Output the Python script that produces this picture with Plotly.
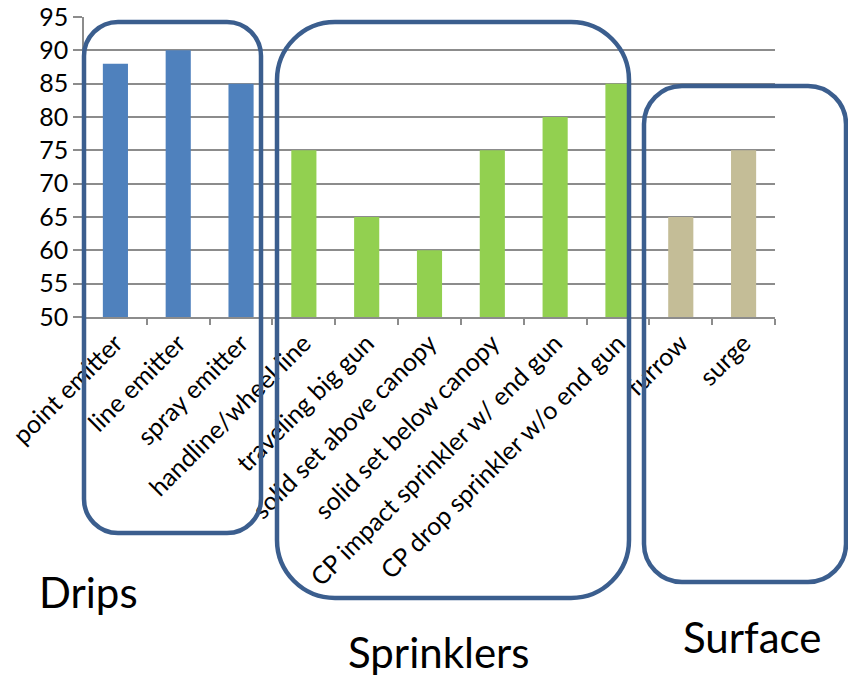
import plotly.graph_objects as go

# Irrigation system efficiency (%) by method
methods = [
    "point emitter", "line emitter", "spray emitter",
    "handline/wheel line", "traveling big gun", "solid set above canopy",
    "solid set below canopy", "CP impact sprinkler w/ end gun",
    "CP drop sprinkler w/o end gun", "furrow", "surge",
]
efficiency = [88, 90, 85, 75, 65, 60, 75, 80, 85, 65, 75]
groups = ["Drips"] * 3 + ["Sprinklers"] * 6 + ["Surface"] * 2

group_colors = {"Drips": "#4F81BD", "Sprinklers": "#92D050", "Surface": "#C4BD97"}
y_ticks = [50, 55, 60, 65, 70, 75, 80, 85, 90, 95]

W, H = 848, 678
L, R, T, B = 84, 775, 17, 317  # plot area in pixels
FONT = "Lato"


def px(x, y):
    """Pixel position -> paper coordinates."""
    return (x - L) / (R - L), (B - y) / (B - T)


def rounded_box(x0, y0, x1, y1, r):
    k = 0.5523 * r

    def P(x, y):
        a, b = px(x, y)
        return f"{a:.5f},{b:.5f}"

    path = (
        f"M {P(x0 + r, y0)} L {P(x1 - r, y0)} "
        f"C {P(x1 - r + k, y0)} {P(x1, y0 + r - k)} {P(x1, y0 + r)} "
        f"L {P(x1, y1 - r)} "
        f"C {P(x1, y1 - r + k)} {P(x1 - r + k, y1)} {P(x1 - r, y1)} "
        f"L {P(x0 + r, y1)} "
        f"C {P(x0 + r - k, y1)} {P(x0, y1 - r + k)} {P(x0, y1 - r)} "
        f"L {P(x0, y0 + r)} "
        f"C {P(x0, y0 + r - k)} {P(x0 + r - k, y0)} {P(x0 + r, y0)} Z"
    )
    return dict(type="path", xref="paper", yref="paper", path=path,
                line=dict(color="#3B5E8E", width=4.5), layer="above")


fig = go.Figure(
    go.Bar(
        x=methods,
        y=efficiency,
        marker=dict(color=[group_colors[g] for g in groups], line=dict(width=0)),
        width=0.4,
    )
)

# Group outlines and captions
boxes = [
    ("Drips", (84, 22, 261, 533, 34), (88, 592)),
    ("Sprinklers", (277, 22, 629, 598, 58), (438, 652)),
    ("Surface", (644, 86, 846, 582, 38), (752, 637)),
]
shapes = []
annotations = []
for name, (x0, y0, x1, y1, r), (tx, ty) in boxes:
    shapes.append(rounded_box(x0, y0, x1, y1, r))
    ax, ay = px(tx, ty)
    annotations.append(dict(text=name, x=ax, y=ay, xref="paper", yref="paper",
                            showarrow=False, xanchor="center", yanchor="middle",
                            font=dict(family=FONT, size=42, color="black")))

fig.update_layout(
    width=W, height=H,
    margin=dict(l=L, r=W - R, t=T, b=H - B, pad=0, autoexpand=False),
    paper_bgcolor="white", plot_bgcolor="white",
    showlegend=False,
    font=dict(family=FONT, size=24, color="black"),
    shapes=shapes,
    annotations=annotations,
)
fig.update_xaxes(
    type="category", tickangle=-45, tickson="boundaries", automargin=False,
    ticks="outside", ticklen=6, tickcolor="#8C8C8C", tickwidth=1.5,
    showline=True, linecolor="#8C8C8C", linewidth=1.5,
    showgrid=False, tickfont=dict(family=FONT, size=25, color="black"),
)
fig.update_yaxes(
    range=[50, 95], tickvals=y_ticks, ticktext=[str(v) for v in y_ticks],
    automargin=False,
    ticks="outside", ticklen=9, tickcolor="#8C8C8C", tickwidth=1.5,
    showline=True, linecolor="#8C8C8C", linewidth=1.5,
    showgrid=True, gridcolor="#8C8C8C", gridwidth=1.5, zeroline=False,
    tickfont=dict(family=FONT, size=25, color="black"),
)

fig.write_html("out.html")
